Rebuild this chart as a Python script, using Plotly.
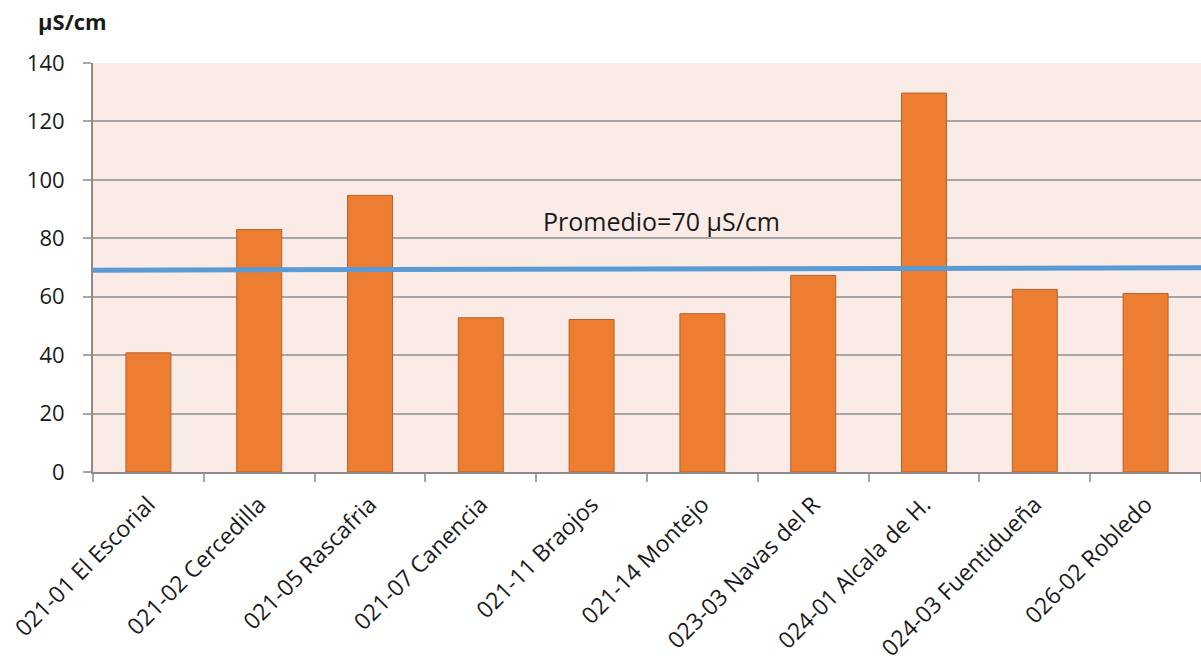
import plotly.graph_objects as go

# Conductividad media por estación
estaciones = [
    "021-01 El Escorial", "021-02 Cercedilla", "021-05 Rascafria", "021-07 Canencia",
    "021-11 Braojos", "021-14 Montejo", "023-03 Navas del R", "024-01 Alcala de H.",
    "024-03 Fuentidueña", "026-02 Robledo",
]
conductividad = [40.8, 83.0, 94.7, 52.8, 52.2, 54.2, 67.3, 129.7, 62.5, 61.1]

# Línea de promedio (extremos izquierdo y derecho)
promedio_y = [69.1, 69.9]
promedio_texto = "Promedio=70 µS/cm"

y_ticks = [0, 20, 40, 60, 80, 100, 120, 140]

FONT = "Open Sans"
GRID = "#A6A6A6"
AXIS = "#8C8C8C"

fig = go.Figure()
fig.add_trace(go.Bar(
    x=estaciones, y=conductividad,
    marker=dict(color="#ED7D31", line=dict(color="#B8622A", width=1)),
))

fig.add_shape(type="line", xref="paper", yref="y",
              x0=0, x1=1, y0=promedio_y[0], y1=promedio_y[1],
              line=dict(color="#5B9BD5", width=5), layer="above")

fig.add_annotation(text=promedio_texto, xref="paper", yref="y",
                   x=0.513, y=86.0, showarrow=False,
                   font=dict(family=FONT, size=25, color="#1a1a1a"))

fig.add_annotation(text="<b>µS/cm</b>", xref="paper", yref="paper",
                   x=0.0, y=1.0, xanchor="center", yanchor="middle",
                   xshift=-21, yshift=42, showarrow=False,
                   font=dict(family=FONT, size=22, color="#1a1a1a"))

fig.update_layout(
    width=1201, height=666,
    margin=dict(l=93, r=0, t=63, b=194),
    paper_bgcolor="white",
    plot_bgcolor="#FBEBE7",
    bargap=0.594,
    showlegend=False,
    font=dict(family=FONT, size=20, color="#1a1a1a"),
)
fig.update_xaxes(
    type="category", tickangle=-45, tickson="boundaries",
    ticks="outside", ticklen=8, tickcolor=GRID, tickwidth=1.5,
    showline=True, linecolor=AXIS, linewidth=2,
    showgrid=False, tickfont=dict(family=FONT, size=23),
    ticklabelstandoff=8,
)
fig.update_yaxes(
    range=[0, 140], tickvals=y_ticks,
    ticks="outside", ticklen=8, tickcolor=GRID, tickwidth=1.5,
    showline=True, linecolor=AXIS, linewidth=2,
    showgrid=True, gridcolor=GRID, gridwidth=1.5,
    zeroline=False, tickfont=dict(family=FONT, size=22),
    ticklabelstandoff=14,
)

fig.write_html("out.html")
